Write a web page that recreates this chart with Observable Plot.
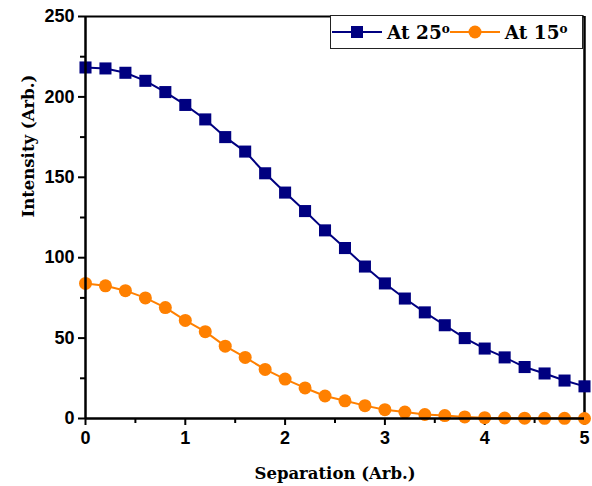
<!DOCTYPE html>
<html><head><meta charset="utf-8">
<script src="https://cdn.jsdelivr.net/npm/d3@7"></script>
<script src="https://cdn.jsdelivr.net/npm/@observablehq/plot@0.6"></script>
<style>
body{margin:0;background:#fff;}
#wrap{position:relative;width:592px;height:486px;}
.legend{position:absolute;left:330px;top:15px;width:253px;height:34px;border:1px solid #222;box-sizing:border-box;background:#fff;
font-family:"DejaVu Serif",serif;font-weight:bold;font-size:18.5px;display:flex;align-items:center;padding-left:1px;}
.legend .item{display:flex;align-items:center;}
.legend sup{font-size:12px;vertical-align:6px;}
</style></head><body><div id="wrap"></div>
<script>
const xs = [0,0.2,0.4,0.6,0.8,1.0,1.2,1.4,1.6,1.8,2.0,2.2,2.4,2.6,2.8,3.0,3.2,3.4,3.6,3.8,4.0,4.2,4.4,4.6,4.8,5.0];
const at25 = [218.3,217.7,215,210,203,195,186,175,166,152.5,140.5,129,117,106,94.5,84,74.6,66,58,50,43.5,38,32,28,23.6,20];
const at15 = [84,82.5,79.5,75,69,61,54,45,38,30.5,24.5,19,14,11,8,5.5,4,2.5,1.8,1,0.5,0.3,0.2,0.1,0.1,0];
const seriesNames = ["At 25º","At 15º"];
const yTicks = [0,50,100,150,200,250];
const yMinor = [25,75,125,175,225];
const xTicks = [0,1,2,3,4,5];
const xMinor = [0.5,1.5,2.5,3.5,4.5];
const blue = "#000080", orange = "#FF8000";

const d25 = xs.map((x,i)=>({x, y: at25[i]}));
const d15 = xs.map((x,i)=>({x, y: at15[i]}));

const tickFont = "Liberation Sans, Arial, sans-serif";
const chart = Plot.plot({
  width: 592, height: 486,
  marginLeft: 85, marginRight: 8, marginTop: 16, marginBottom: 68,
  style: {fontFamily: tickFont, fontSize: "18px", fontWeight: "bold", background: "#fff", color: "#000", overflow: "visible"},
  x: {domain: [0,5]},
  y: {domain: [0,250]},
  marks: [
    Plot.axisY({ticks: yMinor, tickSize: 5, tickFormat: () => "", strokeWidth: 2, label: null}),
    Plot.axisY({ticks: yTicks, tickSize: 7, tickPadding: 4, strokeWidth: 2, label: null, tickFormat: "d"}),
    Plot.axisX({ticks: xMinor, tickSize: 5, tickFormat: () => "", strokeWidth: 2, label: null}),
    Plot.axisX({ticks: xTicks, tickSize: 7, tickPadding: 6, strokeWidth: 2, label: null, tickFormat: "d"}),
    Plot.ruleY([250], {stroke: "#000", strokeWidth: 2}),
    Plot.ruleX([5], {stroke: "#000", strokeWidth: 2.5}),
    Plot.line(d15, {x: "x", y: "y", stroke: orange, strokeWidth: 2}),
    Plot.dot(d15, {x: "x", y: "y", fill: orange, r: 6.5, symbol: "circle"}),
    Plot.line(d25, {x: "x", y: "y", stroke: blue, strokeWidth: 2}),
    Plot.dot(d25, {x: "x", y: "y", fill: blue, r: 6.8, symbol: "square"}),
    Plot.ruleX([0], {stroke: "#000", strokeWidth: 2.5}),
    Plot.ruleY([0], {stroke: "#000", strokeWidth: 2.5}),
    Plot.text(["Separation (Arb.)"], {frameAnchor: "bottom", dy: 60, fontFamily: "DejaVu Serif, serif", fontSize: 16.5, fontWeight: "bold"}),
    Plot.text(["Intensity (Arb.)"], {frameAnchor: "left", dx: -57, rotate: -90, fontFamily: "DejaVu Serif, serif", fontSize: 16.5, fontWeight: "bold"})
  ]
});
const wrap = document.getElementById("wrap");
wrap.appendChild(chart);

function legendItem(color, shape, name){
  const it = document.createElement("div"); it.className = "item";
  const sw = `<svg width="50" height="16"><line x1="0" y1="8" x2="50" y2="8" stroke="${color}" stroke-width="2"/>` +
    (shape === "square" ? `<rect x="19" y="2" width="12" height="12" fill="${color}"/>` : `<circle cx="25" cy="8" r="6.5" fill="${color}"/>`) + `</svg>`;
  const parts = name.split("º");
  it.innerHTML = sw + `<span style="margin-left:5px">${parts[0]}<sup>o</sup></span>`;
  return it;
}
const lg = document.createElement("div"); lg.className = "legend";
lg.appendChild(legendItem(blue, "square", seriesNames[0]));
lg.appendChild(legendItem(orange, "circle", seriesNames[1]));
wrap.appendChild(lg);
</script></body></html>
